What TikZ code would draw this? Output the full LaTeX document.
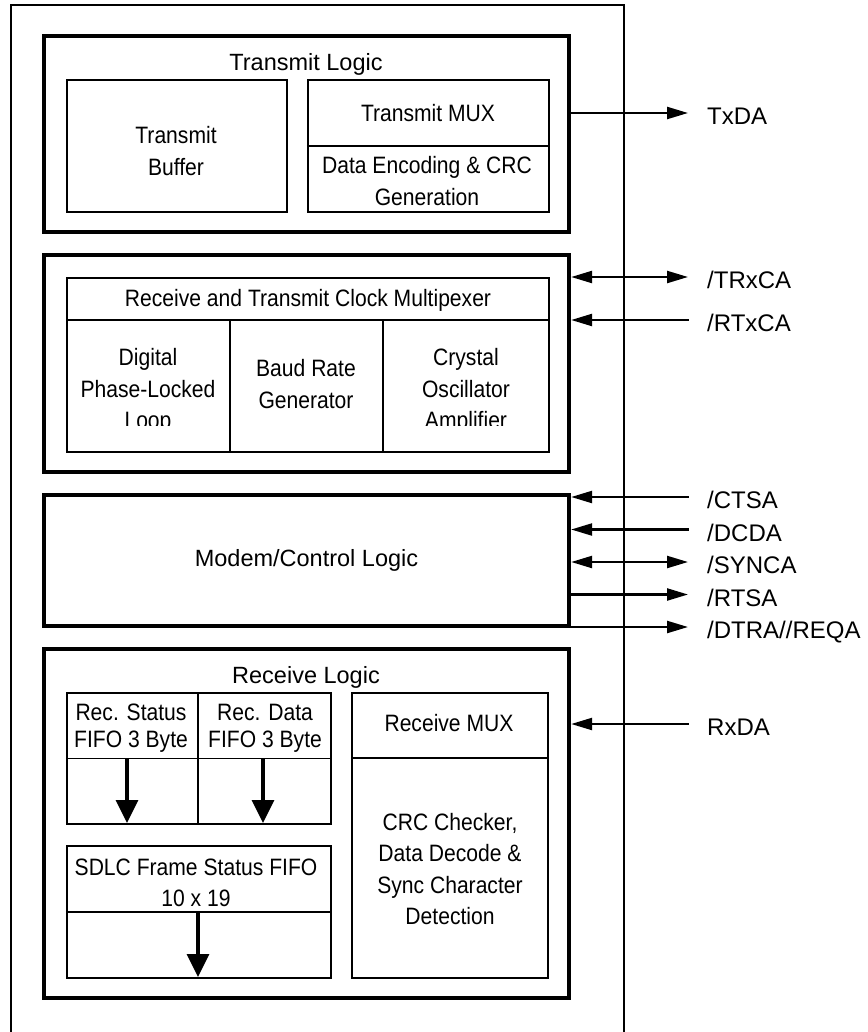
\documentclass[tikz,border=0pt]{standalone}
\usepackage{fontspec}
\setmainfont{Liberation Sans}
\newfontfamily\condfont[FakeStretch=0.89]{Liberation Sans}
\usetikzlibrary{arrows.meta}
\begin{document}
\begin{tikzpicture}[x=1pt,y=-1pt,
  >={Triangle[length=21pt,width=12pt]},
  outerline/.style={line width=2.3pt},
  secbox/.style={draw, line width=4.3pt, inner sep=0pt, font=\fontsize{23.5pt}{28pt}\selectfont},
  inbox/.style={draw, line width=2.3pt, inner sep=0pt},
  divline/.style={line width=1.4pt},
  cond/.style={inner sep=0pt, align=center, font=\condfont\fontsize{23.7pt}{31.5pt}\selectfont},
  condtight/.style={cond, font=\condfont\fontsize{23.7pt}{27pt}\selectfont},
  sectitle/.style={inner sep=0pt, font=\fontsize{23.5pt}{28pt}\selectfont},
  siglabel/.style={inner sep=0pt, anchor=base west, font=\fontsize{24pt}{28pt}\selectfont},
  sig/.style={line width=2.3pt},
  fifoarrow/.style={line width=3.5pt, -{Triangle[length=23pt,width=22pt]}}
]
\useasboundingbox (0,0) rectangle (867,1032);

% outer chip outline (open at the bottom)
\draw[outerline] (11,1032) -- (11,5) -- (624,5) -- (624,1032);

% ---------- Transmit Logic ----------
\node[secbox, minimum width=525pt, minimum height=196pt] (tl) at (306.5,134) {};
\node[sectitle] (tltitle) at (306,64.5) {Transmit Logic};
\node[inbox, minimum width=220pt, minimum height=132pt] (tbuf) at (177,146) {};
\node[cond] (tbuftext) at (176,151) {Transmit\\Buffer};
\node[inbox, minimum width=241pt, minimum height=132pt] (tmux) at (428.5,146) {};
\draw[divline] (tmux.west) -- (tmux.east);
\node[cond] (tmuxtext) at (428,113) {Transmit MUX};
\node[cond] (enctext) at (427,181) {Data Encoding \& CRC\\Generation};

% ---------- Clock section ----------
\node[secbox, minimum width=525pt, minimum height=217pt] (clk) at (306.5,363.5) {};
\node[inbox, minimum width=482pt, minimum height=174pt] (cmux) at (308,365) {};
\draw[divline] (67,320) -- (549,320);
\draw[divline] (230,320) -- (230,452);
\draw[divline] (383,320) -- (383,452);
\node[cond] (cmuxtitle) at (308,300) {Receive and Transmit Clock Multipexer};
\begin{scope}
  \clip (67,320) rectangle (549,425);
  \node[cond] (dpll) at (148,391) {Digital\\Phase-Locked\\Loop};
  \node[cond] (brg) at (306,384) {Baud Rate\\Generator};
  \node[cond] (xtal) at (466,391) {Crystal\\Oscillator\\Amplifier};
\end{scope}

% ---------- Modem / Control ----------
\node[secbox, minimum width=525pt, minimum height=131pt] (modem) at (306.5,560.5) {Modem/Control Logic};

% ---------- Receive Logic ----------
\node[secbox, minimum width=525pt, minimum height=349pt] (rl) at (306.5,823.5) {};
\node[sectitle] (rltitle) at (306,677) {Receive Logic};
\node[inbox, minimum width=264pt, minimum height=131pt] (fifo) at (199,758.5) {};
\draw[divline] (fifo.west) -- (fifo.east);
\draw[divline] (198,693) -- (198,824);
\node[condtight] (rstat) at (131,728) {Rec. Status\\FIFO 3 Byte};
\node[condtight] (rdata) at (265,728) {Rec. Data\\FIFO 3 Byte};
\coordinate (a1s) at (127,759);
\coordinate (a1e) at (127,823);
\coordinate (a2s) at (263,759);
\coordinate (a2e) at (263,823);
\draw[fifoarrow] (a1s) -- (a1e);
\draw[fifoarrow] (a2s) -- (a2e);

\node[inbox, minimum width=264pt, minimum height=132pt] (sdlc) at (199,912) {};
\draw[divline] (sdlc.west) -- (sdlc.east);
\node[cond] (sdlctext) at (196,883) {SDLC Frame Status FIFO\\10 x 19};
\coordinate (a3s) at (198,913);
\coordinate (a3e) at (198,977);
\draw[fifoarrow] (a3s) -- (a3e);

\node[inbox, minimum width=196pt, minimum height=285pt] (rmux) at (450,835.5) {};
\draw[divline] (352,758) -- (548,758);
\node[cond] (rmuxtext) at (449,723) {Receive MUX};
\node[cond] (crctext) at (450,869) {CRC Checker,\\Data Decode \&\\Sync Character\\Detection};

% ---------- external signals ----------
\coordinate (txda) at (688,113);
\coordinate (trxca) at (688,277);
\coordinate (rtxca) at (689,320);
\coordinate (ctsa) at (689,497);
\coordinate (dcda) at (689,529.5);
\coordinate (synca) at (688,562);
\coordinate (rtsa) at (688,594.5);
\coordinate (dtra) at (688,627);
\coordinate (rxda) at (689,724);

\draw[sig,->] (tl.east |- txda) -- (txda);
\draw[sig,<->] (clk.east |- trxca) -- (trxca);
\draw[sig,<-] (clk.east |- rtxca) -- (rtxca);
\draw[sig,<-] (modem.east |- ctsa) -- (ctsa);
\draw[sig,<-] (modem.east |- dcda) -- (dcda);
\draw[sig,<->] (modem.east |- synca) -- (synca);
\draw[sig,->] (modem.east |- rtsa) -- (rtsa);
\draw[sig,->] (modem.east |- dtra) -- (dtra);
\draw[sig,<-] (rl.east |- rxda) -- (rxda);

\node[siglabel] (ltxda) at (707,124.5) {TxDA};
\node[siglabel] (ltrxca) at (707,288.5) {/TRxCA};
\node[siglabel] (lrtxca) at (707,331.5) {/RTxCA};
\node[siglabel] (lctsa) at (707,508.5) {/CTSA};
\node[siglabel] (ldcda) at (707,541) {/DCDA};
\node[siglabel] (lsynca) at (707,573.5) {/SYNCA};
\node[siglabel] (lrtsa) at (707,606) {/RTSA};
\node[siglabel] (ldtra) at (707,638.5) {/DTRA//REQA};
\node[siglabel] (lrxda) at (707,735.5) {RxDA};
\end{tikzpicture}
\end{document}
